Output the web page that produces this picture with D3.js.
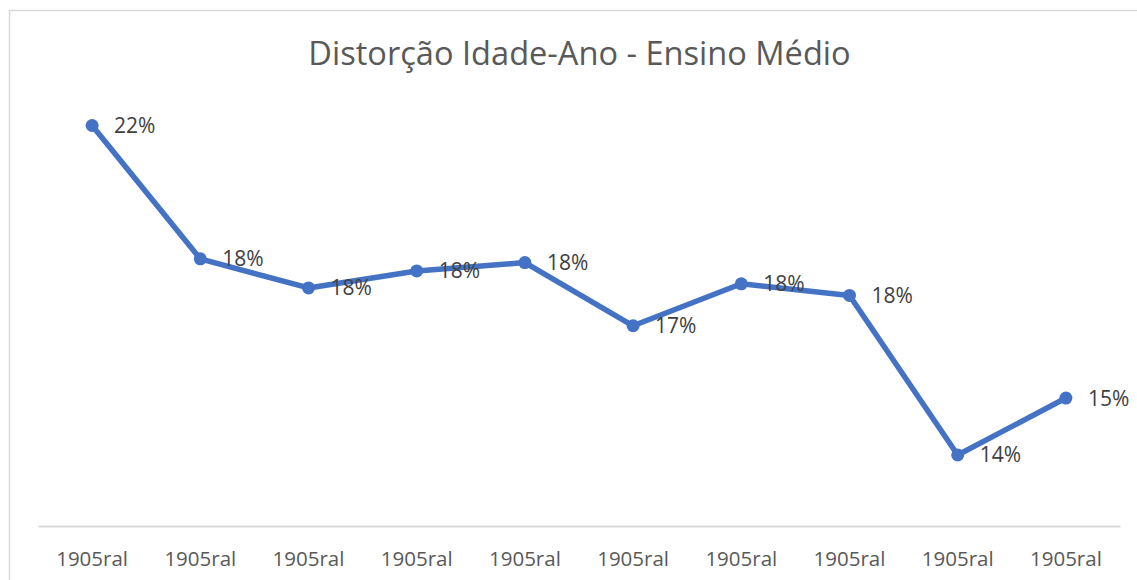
<!DOCTYPE html>
<html>
<head>
<meta charset="utf-8">
<script src="https://cdn.jsdelivr.net/npm/d3@7"></script>
<style>
  body { margin: 0; background: #fff; }
  svg { display: block; font-family: "Open Sans", Lato, sans-serif; }
</style>
</head>
<body>
<div id="chart"></div>
<script>
const title = 'Distorção Idade-Ano - Ensino Médio';
const categories = ['1905ral', '1905ral', '1905ral', '1905ral', '1905ral',
                    '1905ral', '1905ral', '1905ral', '1905ral', '1905ral'];
const values = [0.2164, 0.1843, 0.1773, 0.1814, 0.1834, 0.1682, 0.1783, 0.1755, 0.1371, 0.1508];
const yDomain = [0.12, 0.23];

const width = 1137;
const height = 580;
const plot = { left: 38, right: 1120, top: 69, bottom: 526 };
const lineColor = '#4472C4';

const svg = d3.select('#chart')
    .append('svg')
    .attr('width', width)
    .attr('height', height);

// chart frame
svg.append('rect')
    .attr('x', 9.5).attr('y', 10.5)
    .attr('width', 1140).attr('height', 600)
    .attr('fill', '#fff')
    .attr('stroke', '#d9d9d9')
    .attr('stroke-width', 1.5);

svg.append('text')
    .attr('x', 579.5)
    .attr('y', 65)
    .attr('text-anchor', 'middle')
    .attr('fill', '#595959')
    .style('font-size', '32.6px')
    .text(title);

const idx = categories.map((d, i) => i);
const x = d3.scaleBand().domain(idx).range([plot.left, plot.right]);
const y = d3.scaleLinear().domain(yDomain).range([plot.bottom, plot.top]);
const cx = i => x(i) + x.bandwidth() / 2;

// category axis
const xAxis = svg.append('g')
    .attr('transform', `translate(0,${plot.bottom})`)
    .call(d3.axisBottom(x).tickSize(0).tickPadding(25).tickFormat(i => categories[i]));
xAxis.select('.domain').attr('stroke', '#d9d9d9').attr('stroke-width', 2);
xAxis.selectAll('text')
    .attr('fill', '#595959')
    .style('font-size', '20.5px')
    .style('font-family', '"Open Sans", Lato, sans-serif');

const line = d3.line()
    .x((d, i) => cx(i))
    .y(d => y(d));

svg.append('path')
    .datum(values)
    .attr('d', line)
    .attr('fill', 'none')
    .attr('stroke', lineColor)
    .attr('stroke-width', 5.5)
    .attr('stroke-linejoin', 'round');

svg.selectAll('circle.pt')
    .data(values)
    .enter()
    .append('circle')
    .attr('class', 'pt')
    .attr('cx', (d, i) => cx(i))
    .attr('cy', d => y(d))
    .attr('r', 6.5)
    .attr('fill', lineColor);

svg.selectAll('text.lbl')
    .data(values)
    .enter()
    .append('text')
    .attr('class', 'lbl')
    .attr('x', (d, i) => cx(i) + 22)
    .attr('y', d => y(d) + 7.5)
    .attr('fill', '#404040')
    .style('font-size', '21px')
    .text(d => d3.format('.0%')(d));
</script>
</body>
</html>
